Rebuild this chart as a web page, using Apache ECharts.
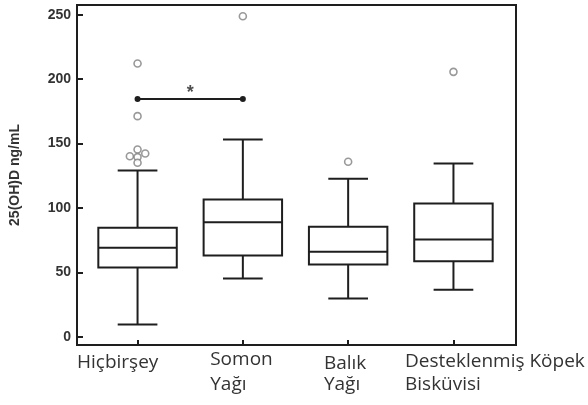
<!DOCTYPE html>
<html><head><meta charset="utf-8">
<script src="https://cdn.jsdelivr.net/npm/echarts@6/dist/echarts.min.js"></script>
<style>html,body{margin:0;padding:0;background:#fff}#c{width:588px;height:405px}</style>
</head><body><div id="c"></div>
<script>
// ---- data ----
const categories = ['Hiçbirşey', 'Somon\nYağı', 'Balık\nYağı', 'Desteklenmiş Köpek\nBisküvisi'];
const boxMin    = [9.5, 45.3, 29.7, 36.5];
const boxQ1     = [53.8, 63.1, 56.1, 58.7];
const boxMedian = [69.1, 89.0, 66.0, 75.5];
const boxQ3     = [84.6, 106.6, 85.4, 103.5];
const boxMax    = [129.1, 153.2, 122.7, 134.5];
const outlierGroup  = [0, 0, 0, 0, 0, 0, 0, 1, 2, 3];
const outlierJitter = [0, 0, 0, -0.073, 0, 0.073, 0, 0, 0, 0];
const outlierValue  = [212.2, 171.3, 145.4, 140.2, 139.5, 142.3, 135.1, 248.9, 135.9, 205.7];
const yTicks = [0, 50, 100, 150, 200, 250];
const sigPair = [0, 1];
const sigValue = 184.6;
const sigMarkValue = 192;
const sigMark = '*';
const yName = '25(OH)D ng/mL';

// ---- styling ----
const INK = '#1e1e1e';
const BOX_W = 0.745, CAP_W = 0.377;
const labelShift = [-0.575, -0.31, -0.23, -0.46];
const labelDy = [6, 0, 8, 5];
const LABEL_FONT = { fontFamily: 'Open Sans', fontSize: 19, color: '#333', lineHeight: 25 };

const rich = { n: Object.assign({}, LABEL_FONT) };
labelDy.forEach((d, i) => {
  rich['h' + i] = Object.assign({}, LABEL_FONT, { padding: [d, 0, 0, 0] });
});

function labelIndex(v) {
  let best = 0, bd = Infinity;
  labelShift.forEach((s, i) => { const d = Math.abs(i + s - v); if (d < bd) { bd = d; best = i; } });
  return best;
}

function renderBox(params, api) {
  const x = api.value(0);
  const lo = api.coord([x, api.value(1)]);
  const q1 = api.coord([x, api.value(2)]);
  const md = api.coord([x, api.value(3)]);
  const q3 = api.coord([x, api.value(4)]);
  const hi = api.coord([x, api.value(5)]);
  const bw = api.size([BOX_W, 0])[0];
  const cw = api.size([CAP_W, 0])[0];
  const cx = q1[0];
  const st = { stroke: INK, lineWidth: 2, fill: null };
  return { type: 'group', children: [
    { type: 'line', shape: { x1: cx, y1: q3[1], x2: cx, y2: hi[1] }, style: st },
    { type: 'line', shape: { x1: cx, y1: q1[1], x2: cx, y2: lo[1] }, style: st },
    { type: 'line', shape: { x1: cx - cw / 2, y1: hi[1], x2: cx + cw / 2, y2: hi[1] }, style: st },
    { type: 'line', shape: { x1: cx - cw / 2, y1: lo[1], x2: cx + cw / 2, y2: lo[1] }, style: st },
    { type: 'rect', shape: { x: cx - bw / 2, y: q3[1], width: bw, height: q1[1] - q3[1] }, style: { stroke: INK, lineWidth: 2, fill: '#fff' } },
    { type: 'line', shape: { x1: cx - bw / 2, y1: md[1], x2: cx + bw / 2, y2: md[1] }, style: st }
  ] };
}

const chart = echarts.init(document.getElementById('c'), null, { renderer: 'canvas' });
chart.setOption({
  animation: false,
  backgroundColor: '#fff',
  grid: { left: 74, right: 72, top: 5, bottom: 60, show: true, borderColor: INK, borderWidth: 2, backgroundColor: 'transparent' },
  xAxis: {
    type: 'value', min: -0.575, max: 3.594,
    axisLine: { show: true, onZero: false, lineStyle: { color: INK, width: 2 } },
    splitLine: { show: false },
    axisTick: { show: true, inside: true, length: 5, lineStyle: { color: INK, width: 2 }, customValues: categories.map((c, i) => i) },
    axisLabel: {
      show: true, align: 'left', margin: 2, showMinLabel: true, showMaxLabel: true,
      customValues: labelShift.map((s, i) => i + s),
      formatter: function (v) {
        const i = labelIndex(v);
        const lines = categories[i].split('\n');
        return lines.map((t, k) => (k === 0 ? '{h' + i + '|' : '{n|') + t + '}').join('\n');
      },
      rich: rich
    }
  },
  yAxis: {
    type: 'value', min: -6.4, max: 257.6,
    name: yName, nameLocation: 'middle', nameRotate: 90, nameGap: 55,
    nameTextStyle: { fontFamily: 'Liberation Sans', fontSize: 14, fontWeight: 'bold', color: '#333' },
    axisLine: { show: true, onZero: false, lineStyle: { color: INK, width: 2 } },
    splitLine: { show: false },
    axisTick: { show: true, inside: true, length: 6, lineStyle: { color: INK, width: 2 }, customValues: yTicks },
    axisLabel: { show: true, margin: 6, customValues: yTicks, fontFamily: 'Liberation Sans', fontSize: 14, fontWeight: 'bold', color: '#333' }
  },
  series: [
    {
      type: 'custom', renderItem: renderBox,
      encode: { x: 0, y: [1, 2, 3, 4, 5] },
      data: categories.map((c, i) => [i, boxMin[i], boxQ1[i], boxMedian[i], boxQ3[i], boxMax[i]]),
      z: 2
    },
    {
      type: 'scatter', symbol: 'circle', symbolSize: 7,
      itemStyle: { color: '#fff', borderColor: '#808080', borderWidth: 1.6 },
      data: outlierValue.map((v, i) => [outlierGroup[i] + outlierJitter[i], v]),
      z: 3
    },
    {
      type: 'line', symbol: 'circle', symbolSize: 6, showSymbol: true,
      lineStyle: { color: INK, width: 2 }, itemStyle: { color: INK },
      data: sigPair.map(i => [i, sigValue]), z: 3
    },
    {
      type: 'scatter', symbolSize: 1, itemStyle: { color: 'transparent' },
      label: { show: true, position: 'inside', formatter: sigMark, fontFamily: 'Liberation Sans', fontSize: 18, fontWeight: 'bold', color: INK, offset: [0, 4] },
      data: [[(sigPair[0] + sigPair[1]) / 2, sigMarkValue]], z: 3
    }
  ]
});
</script>
</body></html>
